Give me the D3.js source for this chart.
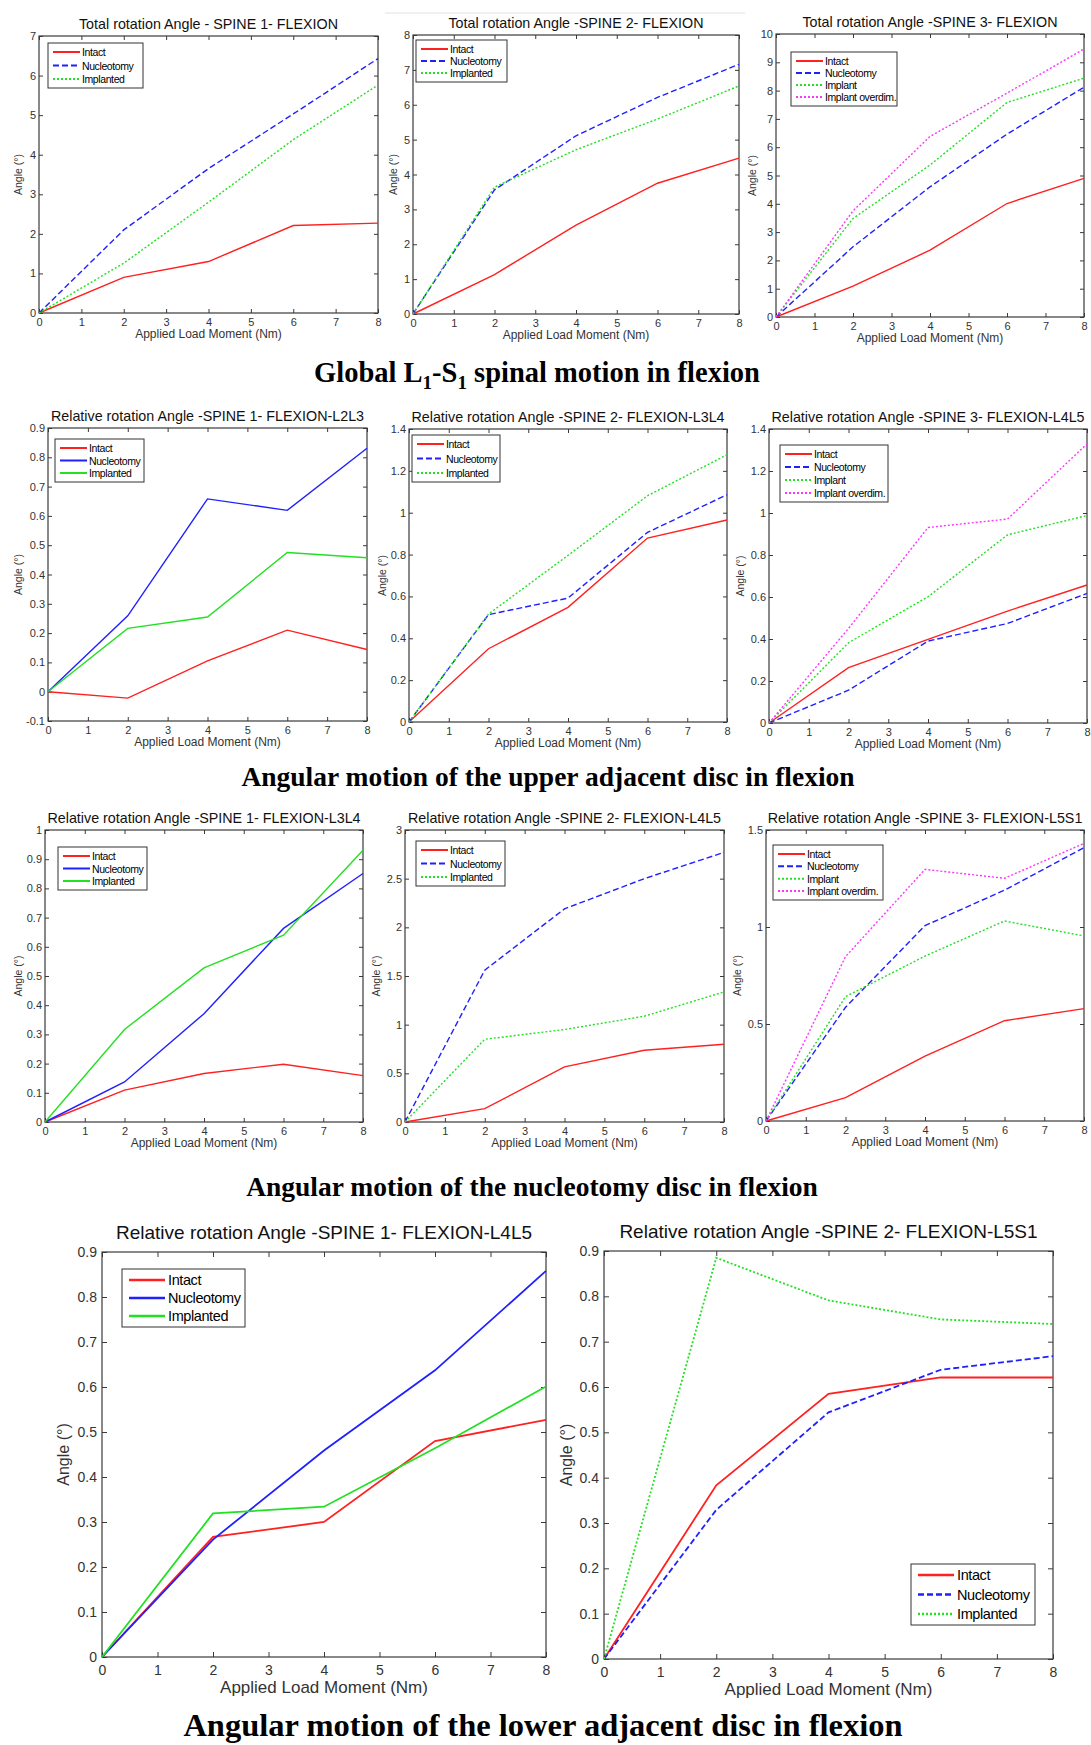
<!DOCTYPE html>
<html>
<head>
<meta charset="utf-8">
<script src="https://cdn.jsdelivr.net/npm/d3@7"></script>
<style>
  body { margin: 0; background: #fff; }
  svg { display: block; }
  text { font-family: "Liberation Sans", Arial, sans-serif; }
</style>
</head>
<body>
<script>
const width  = 1091;
const height = 1745;

// x values (Nm) shared by every panel
const loads  = [0, 2, 4, 6, 8];
const names3 = ['Intact', 'Nucleotomy', 'Implanted'];
const names4 = ['Intact', 'Nucleotomy', 'Implant', 'Implant overdim.'];

// rotation angles (deg), one row per series
const totalSpine1 = [[0, 0.9, 1.3, 2.21, 2.27], [0, 2.1, 3.65, 5.03, 6.43], [0, 1.26, 2.8, 4.38, 5.76]];
const totalSpine2 = [[0, 1.13, 2.55, 3.75, 4.47], [0, 3.56, 5.11, 6.21, 7.16], [0, 3.64, 4.71, 5.59, 6.54]];
const totalSpine3 = [[0, 1.09, 2.36, 4.01, 4.9], [0, 2.48, 4.6, 6.46, 8.12], [0, 3.48, 5.37, 7.58, 8.44], [0, 3.75, 6.38, 7.91, 9.47]];
const upperSpine1 = [[0, -0.022, 0.105, 0.21, 0.144], [0, 0.259, 0.658, 0.619, 0.831], [0, 0.216, 0.255, 0.475, 0.457]];
const upperSpine2 = [[0, 0.35, 0.548, 0.879, 0.965], [0, 0.513, 0.592, 0.906, 1.086], [0, 0.516, 0.796, 1.081, 1.277]];
const upperSpine3 = [[0, 0.264, 0.398, 0.533, 0.657], [0, 0.156, 0.39, 0.474, 0.617], [0, 0.382, 0.601, 0.896, 0.988], [0, 0.45, 0.931, 0.971, 1.329]];
const nucSpine1   = [[0, 0.109, 0.166, 0.198, 0.159], [0, 0.137, 0.371, 0.663, 0.851], [0, 0.317, 0.528, 0.64, 0.931]];
const nucSpine2   = [[0, 0.137, 0.566, 0.737, 0.799], [0, 1.56, 2.19, 2.5, 2.77], [0, 0.85, 0.95, 1.087, 1.337]];
const nucSpine3   = [[0, 0.12, 0.335, 0.517, 0.579], [0, 0.586, 1.007, 1.19, 1.409], [0, 0.641, 0.85, 1.031, 0.954], [0, 0.847, 1.297, 1.251, 1.431]];
const lowerSpine1 = [[0, 0.267, 0.3, 0.48, 0.527], [0, 0.261, 0.459, 0.637, 0.858], [0, 0.319, 0.334, 0.464, 0.601]];
const lowerSpine2 = [[0, 0.383, 0.585, 0.621, 0.621], [0, 0.329, 0.544, 0.638, 0.668], [0, 0.885, 0.791, 0.749, 0.739]];

const titles = [
  'Total rotation Angle - SPINE 1- FLEXION',
  'Total rotation Angle -SPINE 2- FLEXION',
  'Total rotation Angle -SPINE 3- FLEXION',
  'Relative rotation Angle -SPINE 1- FLEXION-L2L3',
  'Relative rotation Angle -SPINE 2- FLEXION-L3L4',
  'Relative rotation Angle -SPINE 3- FLEXION-L4L5',
  'Relative rotation Angle -SPINE 1- FLEXION-L3L4',
  'Relative rotation Angle -SPINE 2- FLEXION-L4L5',
  'Relative rotation Angle -SPINE 3- FLEXION-L5S1',
  'Relative rotation Angle -SPINE 1- FLEXION-L4L5',
  'Relative rotation Angle -SPINE 2- FLEXION-L5S1'
];
const yDomains = [[0, 7], [0, 8], [0, 10], [-0.1, 0.9], [0, 1.4], [0, 1.4], [0, 1], [0, 3], [0, 1.5], [0, 0.9], [0, 0.9]];
const ySteps   = [1, 1, 1, 0.1, 0.2, 0.2, 0.1, 0.5, 0.5, 0.1, 0.1];
const xLabel   = 'Applied Load Moment (Nm)';
const yLabel   = 'Angle (\u00b0)';

const captions = [
  'Angular motion of the upper adjacent disc in flexion',
  'Angular motion of the nucleotomy disc in flexion',
  'Angular motion of the lower adjacent disc in flexion'
];

// ---- layout / style ----
const colors = ['#ff2020', '#2020ff', '#22e022', '#ff33ff'];
const SOLID = null, DASH = '6,3', DOT = '2,2';

const small = {title: 14.3, tick: 11, xl: 12, yl: 10.5, leg: 10.5, tickLen: 4, xpad: 5, ypad: 3, titleOff: 12, xlOff: 21,
               lw: 1.4, pad: 9, l0: 5, l1: 32, tx: 34};
const big   = {title: 19, tick: 14, xl: 17, yl: 16, leg: 14.5, tickLen: 5, xpad: 8, ypad: 5, titleOff: 20, xlOff: 30,
               lw: 1.8, pad: 11, l0: 7, l1: 43, tx: 46};

const panels = [
  {data: totalSpine1, names: names3, box: [39, 36, 378, 313],    leg: [48, 43, 95, 45],     dash: [SOLID, DASH, DOT], ylx: 18, st: small},
  {data: totalSpine2, names: names3, box: [413, 35, 739, 314],   leg: [416, 40, 91, 42],    dash: [SOLID, DASH, DOT], ylx: 393, st: small},
  {data: totalSpine3, names: names4, box: [776, 34, 1084, 317],  leg: [791, 52, 106, 54],   dash: [SOLID, DASH, DOT, DOT], ylx: 752, st: small},
  {data: upperSpine1, names: names3, box: [48, 428, 367, 721],   leg: [55, 439, 89, 43],    dash: [SOLID, SOLID, SOLID], ylx: 18, st: small},
  {data: upperSpine2, names: names3, box: [409, 429, 727, 722],  leg: [412, 435, 88, 47],   dash: [SOLID, DASH, DOT], ylx: 382, st: small},
  {data: upperSpine3, names: names4, box: [769, 429, 1087, 723], leg: [780, 445, 108, 57],  dash: [SOLID, DASH, DOT, DOT], ylx: 740, st: small},
  {data: nucSpine1,   names: names3, box: [45, 830, 363, 1122],  leg: [58, 847, 89, 43],    dash: [SOLID, SOLID, SOLID], ylx: 18, st: small},
  {data: nucSpine2,   names: names3, box: [405, 830, 724, 1122], leg: [416, 841, 89, 45],   dash: [SOLID, DASH, DOT], ylx: 376, st: small},
  {data: nucSpine3,   names: names4, box: [766, 830, 1084, 1121],leg: [773, 845, 110, 55],  dash: [SOLID, DASH, DOT, DOT], ylx: 737, st: small},
  {data: lowerSpine1, names: names3, box: [102, 1252, 546, 1657],leg: [122, 1269, 123, 58], dash: [SOLID, SOLID, SOLID], ylx: 63, st: big},
  {data: lowerSpine2, names: names3, box: [604, 1251, 1053, 1659],leg: [911, 1564, 124, 61],dash: [SOLID, DASH, DOT], ylx: 566, st: big}
];

const svg = d3.select('body').append('svg')
  .attr('width', width)
  .attr('height', height);

svg.append('rect').attr('width', width).attr('height', height).attr('fill', '#fff');

// faint rule above the second panel in the source figure
svg.append('line').attr('x1', 385).attr('x2', 745).attr('y1', 13).attr('y2', 13)
  .attr('stroke', '#e2e2e2').attr('stroke-width', 1);

const fmt = v => String(+v.toFixed(2));

const drawPanel = function(p, k) {
  const st = p.st;
  const [x0, y0, x1, y1] = p.box;
  const dom  = yDomains[k];
  const step = ySteps[k];
  const yTicks = d3.range(Math.round((dom[1] - dom[0]) / step) + 1).map(i => +(dom[0] + i * step).toFixed(2));

  const x = d3.scaleLinear().domain([0, 8]).range([x0, x1]);
  const y = d3.scaleLinear().domain(dom).range([y1, y0]);
  const g = svg.append('g');

  const styleAxis = sel => {
    sel.select('.domain').remove();
    sel.selectAll('line').attr('stroke', '#3a3a3a');
    sel.selectAll('text').attr('fill', '#333').style('font-size', st.tick + 'px')
      .style('font-family', '"Liberation Sans", Arial, sans-serif');
  };

  g.append('g').attr('transform', `translate(0,${y1})`)
    .call(d3.axisBottom(x).tickValues(d3.range(9)).tickSize(-st.tickLen).tickSizeOuter(0).tickPadding(st.xpad).tickFormat(fmt))
    .call(styleAxis);
  g.append('g').attr('transform', `translate(0,${y0})`)
    .call(d3.axisTop(x).tickValues(d3.range(9)).tickSize(-st.tickLen).tickSizeOuter(0).tickFormat(''))
    .call(styleAxis);
  g.append('g').attr('transform', `translate(${x0},0)`)
    .call(d3.axisLeft(y).tickValues(yTicks).tickSize(-st.tickLen).tickSizeOuter(0).tickPadding(st.ypad).tickFormat(fmt))
    .call(styleAxis);
  g.append('g').attr('transform', `translate(${x1},0)`)
    .call(d3.axisRight(y).tickValues(yTicks).tickSize(-st.tickLen).tickSizeOuter(0).tickFormat(''))
    .call(styleAxis);

  g.append('rect').attr('x', x0).attr('y', y0).attr('width', x1 - x0).attr('height', y1 - y0)
    .attr('fill', 'none').attr('stroke', '#3a3a3a').attr('stroke-width', 1.2);

  const line = d3.line().x((d, i) => x(loads[i])).y(d => y(d));
  p.data.forEach((vals, i) => {
    g.append('path').attr('d', line(vals))
      .attr('fill', 'none')
      .attr('stroke', colors[i])
      .attr('stroke-width', st.lw)
      .attr('stroke-dasharray', p.dash[i]);
  });

  g.append('text').attr('x', (x0 + x1) / 2).attr('y', y0 - st.titleOff)
    .attr('text-anchor', 'middle').attr('dominant-baseline', 'central')
    .style('font-size', st.title + 'px').attr('fill', '#111').text(titles[k]);

  g.append('text').attr('x', (x0 + x1) / 2).attr('y', y1 + st.xlOff)
    .attr('text-anchor', 'middle').attr('dominant-baseline', 'central')
    .style('font-size', st.xl + 'px').attr('fill', '#333').text(xLabel);

  g.append('text').attr('transform', `translate(${p.ylx},${(y0 + y1) / 2}) rotate(-90)`)
    .attr('text-anchor', 'middle').attr('dominant-baseline', 'central')
    .style('font-size', st.yl + 'px').attr('fill', '#333').text(yLabel);

  // legend
  const [lx, ly, lw, lh] = p.leg;
  const n = p.names.length;
  const gap = (lh - 2 * st.pad) / (n - 1);
  const lg = g.append('g');
  lg.append('rect').attr('x', lx).attr('y', ly).attr('width', lw).attr('height', lh)
    .attr('fill', '#fff').attr('stroke', '#333').attr('stroke-width', 1);
  p.names.forEach((name, i) => {
    const cy = ly + st.pad + i * gap;
    lg.append('line').attr('x1', lx + st.l0).attr('x2', lx + st.l1).attr('y1', cy).attr('y2', cy)
      .attr('stroke', colors[i]).attr('stroke-width', st.lw + 0.6).attr('stroke-dasharray', p.dash[i]);
    lg.append('text').attr('x', lx + st.tx).attr('y', cy).attr('dominant-baseline', 'central')
      .style('font-size', st.leg + 'px').style('letter-spacing', '-0.4px').attr('fill', '#000').text(name);
  });
};

panels.forEach(drawPanel);

// row captions
const capStyle = sel => sel.attr('text-anchor', 'middle').attr('dominant-baseline', 'central')
  .style('font-family', '"Liberation Serif", "Times New Roman", serif').style('font-weight', 'bold').attr('fill', '#000');

const cap1 = svg.append('text').attr('x', 537).attr('y', 372).call(capStyle).style('font-size', '28.5px');
cap1.append('tspan').text('Global L');
cap1.append('tspan').attr('baseline-shift', 'sub').style('font-size', '19px').text('1');
cap1.append('tspan').text('-S');
cap1.append('tspan').attr('baseline-shift', 'sub').style('font-size', '19px').text('1');
cap1.append('tspan').text(' spinal motion in flexion');

svg.append('text').attr('x', 548).attr('y', 776).call(capStyle).style('font-size', '27.5px').text(captions[0]);
svg.append('text').attr('x', 532).attr('y', 1186).call(capStyle).style('font-size', '27.5px').text(captions[1]);
svg.append('text').attr('x', 543).attr('y', 1725).call(capStyle).style('font-size', '32.5px').text(captions[2]);
</script>
</body>
</html>
